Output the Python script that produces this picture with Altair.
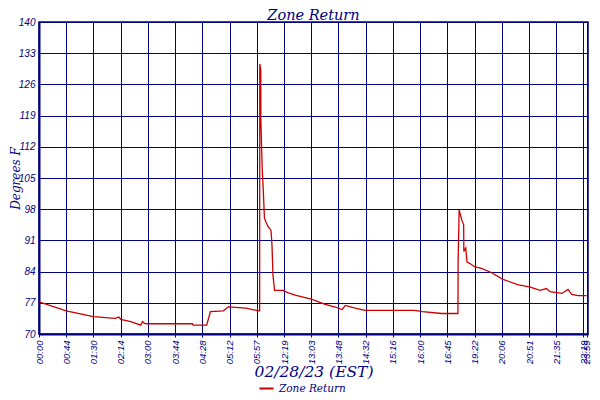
import altair as alt
import pandas as pd

# Axis tick labels (uneven time axis, as in the original logger chart)
tick_labels = ["00:00", "00:44", "01:30", "02:14", "03:00", "03:44", "04:28", "05:12",
               "05:57", "12:19", "13:03", "13:48", "14:32", "15:16", "16:00", "16:45",
               "19:22", "20:06", "20:51", "21:35", "22:19", "23:59"]
y_ticks = [70, 77, 84, 91, 98, 105, 112, 119, 126, 133, 140]

# Zone Return series (time of sample, degrees F)
times = ["00:00", "00:44", "01:30", "02:05", "02:11", "02:14", "02:31", "02:48", "02:51", "02:54",
         "02:59", "04:12", "04:13", "04:35", "04:41", "05:02", "05:10", "05:39", "06:21", "06:37",
         "06:39", "06:53", "06:54", "07:12", "07:30", "07:44", "08:11", "08:39", "09:16", "09:30",
         "09:44", "10:06", "12:06", "12:25", "12:37", "13:03", "13:25", "13:44", "13:54", "13:59",
         "14:15", "14:31", "15:51", "16:04", "16:36", "17:40", "17:46", "17:47", "17:53", "17:58",
         "18:08", "18:19", "18:20", "18:31", "18:38", "18:55", "19:22", "19:33", "19:49", "20:07",
         "20:32", "20:53", "21:09", "21:19", "21:25", "21:44", "21:54", "22:00", "22:10", "23:59"]
values = [77.2, 75.2, 73.9, 73.5, 73.8, 73.3, 72.8, 72.0, 72.8, 72.4,
          72.3, 72.3, 72.0, 72.0, 75.0, 75.2, 76.1, 75.8, 75.2, 75.2,
          130.6, 129.2, 118.0, 107.5, 101.6, 96.0, 94.9, 94.0, 93.3, 90.0,
          83.2, 79.8, 79.8, 79.3, 78.7, 77.8, 76.7, 76.0, 75.5, 76.4,
          75.8, 75.3, 75.3, 75.0, 74.6, 74.6, 74.6, 86.2, 97.8, 97.1,
          95.6, 94.5, 88.5, 89.3, 86.2, 85.8, 85.1, 84.7, 83.8, 82.3,
          81.1, 80.5, 79.8, 80.2, 79.5, 79.1, 80.0, 78.9, 78.6, 78.6]


def to_min(s):
    h, m = s.split(":")
    return int(h) * 60 + int(m)


df = pd.DataFrame({"t": [to_min(s) for s in times], "v": values, "series": "Zone Return"})

tick_min = [to_min(s) for s in tick_labels]
W, H = 549, 312
f = W / 559.0
step = 27.72 * f
x_domain = tick_min + [1440]
x_range = [round(i * step, 2) for i in range(len(tick_min) - 1)] + [round(557.5 * f, 2), W]

NAVY = "#000080"
RED = "#cc0000"
SERIF = "DejaVu Serif"
SANS = "Liberation Sans"

label_expr = ("(floor(datum.value/60) < 10 ? '0' : '') + floor(datum.value/60) + ':' + "
              "(datum.value % 60 < 10 ? '0' : '') + (datum.value % 60)")

chart = alt.Chart(df).mark_line(strokeWidth=1.3, clip=True).encode(
    x=alt.X("t:Q",
            scale=alt.Scale(domain=x_domain, range=x_range, nice=False, zero=False),
            axis=alt.Axis(values=tick_min, labelExpr=label_expr, labelAngle=270,
                          labelFont=SANS, labelFontStyle="italic", labelFontSize=9.5,
                          labelColor=NAVY, labelPadding=3, labelOverlap=False,
                          tickColor=NAVY, tickSize=3, domainColor=NAVY, domainWidth=2,
                          gridColor=NAVY, gridWidth=1, gridOpacity=1,
                          title="02/28/23 (EST)", titleFont=SERIF, titleFontStyle="italic",
                          titleFontWeight="normal", titleFontSize=15.5, titleColor=NAVY,
                          titleY=42, titleBaseline="alphabetic")),
    y=alt.Y("v:Q",
            scale=alt.Scale(domain=[70, 140], nice=False, zero=False),
            axis=alt.Axis(values=y_ticks, labelFont=SANS, labelFontStyle="italic",
                          labelFontSize=10, labelColor=NAVY, labelPadding=4, ticks=False,
                          domainColor=NAVY, domainWidth=2,
                          gridColor=NAVY, gridWidth=1, gridOpacity=1,
                          title="Degrees F", titleFont=SERIF, titleFontStyle="italic",
                          titleFontWeight="normal", titleFontSize=12, titleColor=NAVY,
                          titleX=-20, titleBaseline="alphabetic")),
    color=alt.Color("series:N",
                    scale=alt.Scale(domain=["Zone Return"], range=[RED]),
                    legend=alt.Legend(title=None, orient="none", legendX=219, legendY=358,
                                      symbolType="stroke", symbolStrokeWidth=2, symbolSize=200,
                                      labelFont=SERIF, labelFontStyle="italic", labelFontSize=10.5,
                                      labelColor=NAVY)),
).properties(
    width=W, height=H,
    title=alt.TitleParams("Zone Return", font=SERIF, fontStyle="italic", fontWeight="normal",
                          fontSize=14.5, color=NAVY, offset=0, dy=6, anchor="middle"),
    autosize=alt.AutoSizeParams(type="none"),
    padding={"left": 31, "top": 14, "right": 4, "bottom": 58},
).configure_view(stroke=NAVY, strokeWidth=1.5)

chart.save("out.html", embed_options={"renderer": "svg", "actions": False})
